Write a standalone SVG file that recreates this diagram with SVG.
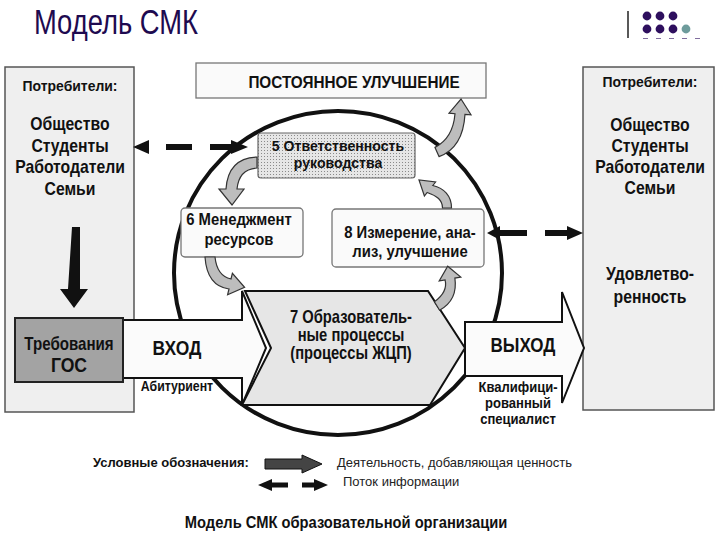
<svg xmlns="http://www.w3.org/2000/svg" width="720" height="540" viewBox="0 0 720 540">
<defs>
<style>
.t{font-family:"Liberation Sans",Arial,sans-serif;fill:#111;text-anchor:middle}
.b{font-weight:bold}
.side{fill:#efefef;stroke:#555;stroke-width:1.5}
.box{fill:#fafafa;stroke:#777;stroke-width:1.3}
.big{fill:#fbfbfb;stroke:#111;stroke-width:2}
.gray{fill:#bdbdbd;stroke:#333;stroke-width:1.2}
.info{fill:#111}
</style>
<pattern id="dots" width="3" height="3" patternUnits="userSpaceOnUse">
<rect width="3" height="3" fill="#e6e6e6"/>
<rect width="1" height="1" fill="#8a8a8a"/>
</pattern>
</defs>
<rect width="720" height="540" fill="#ffffff"/>

<g id="header">
<text x="34" y="34" font-family="'Liberation Sans',Arial,sans-serif" font-size="35" fill="#1e0a50" textLength="164" lengthAdjust="spacingAndGlyphs">Модель СМК</text>
<line x1="628" y1="11" x2="628" y2="38" stroke="#222" stroke-width="1.5"/>
<g fill="#2e0f5e">
<circle cx="647" cy="16" r="4.4"/><circle cx="660" cy="16" r="4.4"/><circle cx="673" cy="16" r="4.4"/>
<circle cx="647" cy="29" r="4.4"/><circle cx="660" cy="29" r="4.4"/><circle cx="673" cy="29" r="4.4"/>
</g>
<circle cx="686" cy="29" r="4.4" fill="#6e9c9c"/>
<line x1="643" y1="38.5" x2="700" y2="38.5" stroke="#2e0f5e" stroke-width="1" stroke-dasharray="5,8" opacity="0.6"/>
</g>

<g id="consumers-left">
<rect class="side" x="5" y="67" width="129" height="345"/>
<g transform="translate(70,0) scale(0.9,1)">
<text class="t b" x="0" y="91" font-size="15.5">Потребители:</text>
<text class="t b" x="0" y="130" font-size="17.5">Общество</text>
<text class="t b" x="0" y="152" font-size="17.5">Студенты</text>
<text class="t b" x="0" y="173" font-size="17.5">Работодатели</text>
<text class="t b" x="0" y="195" font-size="17.5">Семьи</text>
</g>
</g>

<g id="consumers-right">
<rect class="side" x="583" y="67" width="131" height="343"/>
<g transform="translate(650,0) scale(0.9,1)">
<text class="t b" x="0" y="87" font-size="15.5">Потребители:</text>
<text class="t b" x="0" y="131" font-size="17.5">Общество</text>
<text class="t b" x="0" y="152" font-size="17.5">Студенты</text>
<text class="t b" x="0" y="173" font-size="17.5">Работодатели</text>
<text class="t b" x="0" y="194" font-size="17.5">Семьи</text>
<text class="t b" x="0" y="280" font-size="17.5">Удовлетво-</text>
<text class="t b" x="0" y="303" font-size="17.5">ренность</text>
</g>
</g>

<g id="improvement">
<rect class="box" x="196" y="63" width="290" height="35"/>
<g transform="translate(354,0) scale(0.9,1)">
<text class="t b" x="0" y="88" font-size="17">ПОСТОЯННОЕ УЛУЧШЕНИЕ</text>
</g>
</g>

<g id="cycle">
<ellipse cx="338" cy="273" rx="164" ry="162" fill="none" stroke="#111" stroke-width="4"/>
</g>

<g id="input">
<path class="big" d="M122,320 L242,320 L242,291 L266,348 L242,405 L242,378 L122,378 Z"/>
<g transform="translate(177,0) scale(0.85,1)">
<text class="t b" x="0" y="355" font-size="20.5">ВХОД</text>
<text class="t b" x="0" y="391" font-size="14.5">Абитуриент</text>
</g>
</g>

<g id="requirements">
<rect x="15" y="318" width="108" height="64" fill="#a3a3a3" stroke="#222" stroke-width="2"/>
<g transform="translate(69,0) scale(0.84,1)">
<text class="t b" x="0" y="350" font-size="18">Требования</text>
<text class="t b" x="0" y="372" font-size="21">ГОС</text>
</g>
</g>

<g id="process7">
<path d="M245,291 L428,291 L465,348 L430,405 L242,405 L271,348 Z" fill="#e6e6e6" stroke="#111" stroke-width="2"/>
<g transform="translate(351,0) scale(0.82,1)">
<text class="t b" x="0" y="323" font-size="18">7 Образователь-</text>
<text class="t b" x="0" y="341" font-size="18">ные процессы</text>
<text class="t b" x="0" y="359" font-size="18">(процессы ЖЦП)</text>
</g>
</g>

<g id="output">
<path class="big" d="M465,322 L562,322 L562,292 L584,348 L562,403 L562,376 L465,376 Z"/>
<g transform="translate(523,0) scale(0.85,1)">
<text class="t b" x="0" y="352" font-size="20">ВЫХОД</text>
</g>
<g transform="translate(518,0) scale(0.9,1)">
<text class="t b" x="0" y="392" font-size="14.5">Квалифици-</text>
<text class="t b" x="0" y="408" font-size="14.5">рованный</text>
<text class="t b" x="0" y="424" font-size="14.5">специалист</text>
</g>
</g>

<g id="management5">
<rect x="258" y="133" width="157" height="45" rx="3" fill="url(#dots)" stroke="#666" stroke-width="1.2"/>
<g transform="translate(338,0) scale(0.94,1)">
<text class="t b" x="0" y="151" font-size="15">5 Ответственность</text>
<text class="t b" x="0" y="168" font-size="15">руководства</text>
</g>
</g>

<g id="resources6">
<rect class="box" x="181" y="208" width="122" height="49" rx="4"/>
<g transform="translate(239,0) scale(0.9,1)">
<text class="t b" x="0" y="225" font-size="16.5">6 Менеджмент</text>
<text class="t b" x="0" y="245" font-size="16.5">ресурсов</text>
</g>
</g>

<g id="measure8">
<rect class="box" x="332" y="209" width="152" height="58" rx="4"/>
<g transform="translate(410,0) scale(0.9,1)">
<text class="t b" x="0" y="238" font-size="16.5">8 Измерение, ана-</text>
<text class="t b" x="0" y="257" font-size="16.5">лиз, улучшение</text>
</g>
</g>

<g id="connectors">
<path class="gray" d="M257,157 Q228,158 226,189 L219,189 L232,205 L244,189 L237,189 Q239,169 257,168 Z"/>
<path class="gray" d="M205,257 Q207,286 229,289 L227.6,294.7 L244.6,287.3 L232.4,273.3 L231,279 Q217,276 215,257 Z"/>
<path class="gray" d="M451.5,208 C451.5,196 444,188 432.8,185.5 L435.6,182 L419,180 L424.4,196 L427.2,192.5 C437,196 442.5,200 442.5,208 Z"/>
<path class="gray" d="M439.6,310.2 Q458,300 454.9,278.1 L460.8,277.1 L447.7,266.2 L439.2,280.9 L445.1,279.9 Q448,292 434.4,301.8 Z"/>
<path class="gray" d="M439,156.6 Q463,148 465,114.3 L471,114.8 L461,99 L449,113.2 L455,113.7 Q453,138 435,147.4 Z"/>
<path class="info" d="M72,227 L80,227 L80,289 L88,289 L74,308 L60,289 L68,289 Z"/>
<path class="info" d="M133,147 L149,140 L149,154 Z"/>
<rect class="info" x="166" y="144" width="26" height="6"/>
<path class="info" d="M210,144 L231,144 L231,140 L248,147 L231,154 L231,150 L210,150 Z"/>
<path class="info" d="M487,233 L500,226 L500,230 L527,230 L527,236 L500,236 L500,240 Z"/>
<path class="info" d="M545,230 L567,230 L567,226 L583,233 L567,240 L567,236 L545,236 Z"/>
</g>

<g id="legend">
<text x="93" y="467" font-family="'Liberation Sans',Arial,sans-serif" font-weight="bold" font-size="13" fill="#111">Условные обозначения:</text>
<path d="M265,459 L302,459 L302,455 L322,464 L302,473 L302,469 L265,469 Z" fill="#444" stroke="#111" stroke-width="1"/>
<text x="337" y="467" font-family="'Liberation Sans',Arial,sans-serif" font-size="13" fill="#222">Деятельность, добавляющая ценность</text>
<path class="info" d="M258,485 L272,479 L272,482.5 L288,482.5 L288,487.5 L272,487.5 L272,491 Z"/>
<path class="info" d="M302,482.5 L314,482.5 L314,479 L328,485 L314,491 L314,487.5 L302,487.5 Z"/>
<text x="343" y="486" font-family="'Liberation Sans',Arial,sans-serif" font-size="13" fill="#222">Поток информации</text>
<g transform="translate(346,0) scale(0.92,1)">
<text class="t b" x="0" y="528" font-size="16">Модель СМК образовательной организации</text>
</g>
</g>
</svg>
